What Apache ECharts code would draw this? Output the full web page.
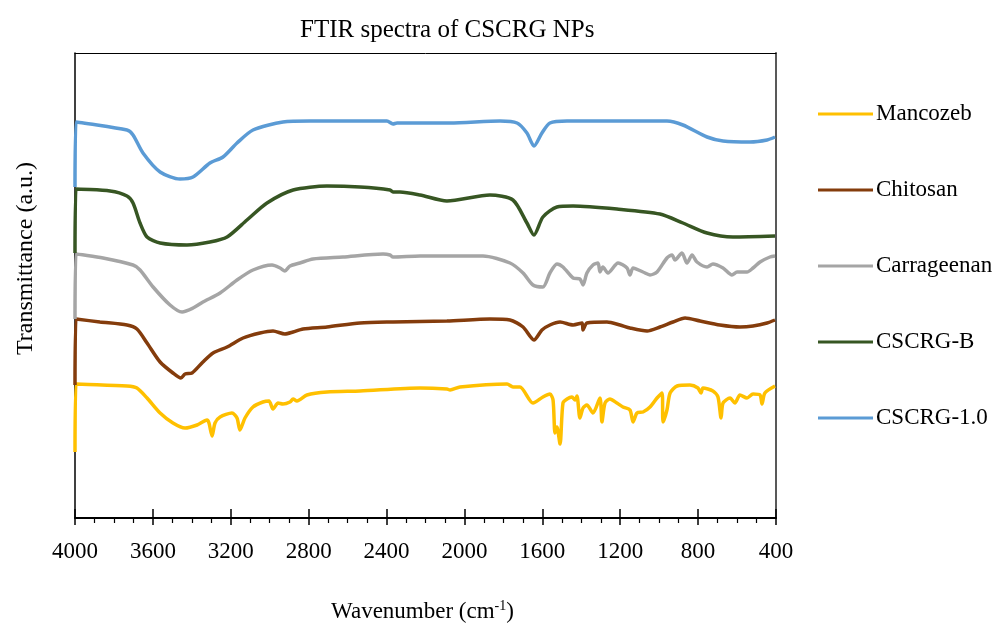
<!DOCTYPE html>
<html>
<head>
<meta charset="utf-8">
<script src="https://cdn.jsdelivr.net/npm/echarts@6/dist/echarts.min.js"></script>
<style>html,body{margin:0;padding:0;background:#fff}#c{width:998px;height:623px}</style>
</head>
<body>
<div id="c"></div>
<script>
// Tick labels
var xTicks = [4000, 3600, 3200, 2800, 2400, 2000, 1600, 1200, 800, 400];
var seriesNames = ['Mancozeb', 'Chitosan', 'Carrageenan', 'CSCRG-B', 'CSCRG-1.0'];

// CSCRG-1.0 (wavenumber, transmittance a.u.)
var cscrg10Wn = [4000,3995,3733,3702,3651,3563,3461,3394,3307,3240,3168,3086,2932,2793,2398,2367,2346,2228,2074,1817,1730,1679,1643,1602,1561,1473,960,878,754,672,534,446,405];
var cscrg10T  = [33.1,39.6,38.8,38.3,36.5,34.6,33.9,34.1,35.5,36.1,37.5,38.8,39.6,39.7,39.7,39.4,39.5,39.5,39.5,39.7,39.5,38.5,37.2,38.5,39.5,39.7,39.7,39.3,38.1,37.7,37.6,37.8,38.1];

// CSCRG-B
var cscrgBWn = [4000,3995,3820,3733,3702,3666,3630,3563,3425,3307,3219,3117,3014,2880,2706,2536,2382,2367,2331,2228,2090,1869,1751,1679,1643,1597,1525,1442,1217,996,878,754,621,405];
var cscrgBT  = [26.5,32.9,32.7,32.2,31.5,29.5,28.1,27.5,27.3,27.6,28.1,29.8,31.5,32.8,33.2,33.1,32.8,32.6,32.6,32.3,31.7,32.3,31.8,29.5,28.3,30.1,31.1,31.2,30.9,30.4,29.5,28.5,28.1,28.2];

// Carrageenan
var carrWn = [4000,3995,3856,3702,3666,3599,3512,3450,3394,3343,3255,3168,3086,2988,2947,2922,2896,2845,2778,2624,2418,2382,2367,2228,1905,1766,1699,1648,1597,1561,1525,1494,1442,1407,1391,1371,1340,1314,1304,1289,1263,1211,1165,1150,1134,1083,1047,1011,960,934,919,883,857,831,806,754,724,672,626,600,549,518,482,431,405];
var carrT  = [19.9,26.4,26.0,25.3,24.8,23.1,21.3,20.6,21.0,21.6,22.5,23.8,24.8,25.3,25.0,24.7,25.2,25.5,25.9,26.1,26.4,26.3,26.1,26.2,26.2,25.5,24.5,23.3,23.1,24.5,25.4,25.1,24.0,23.9,23.3,24.5,25.3,25.5,24.6,25.1,24.5,25.5,25.0,24.3,25.0,24.6,24.3,24.6,26.0,26.3,25.8,26.5,25.5,26.3,25.6,25.1,25.4,25.0,24.3,24.6,24.6,25.0,25.6,26.1,26.2];

// Chitosan
var chitWn = [4000,3995,3872,3733,3682,3630,3563,3497,3456,3435,3399,3343,3291,3219,3137,3050,2983,2922,2880,2829,2706,2536,2367,2090,1869,1766,1699,1643,1602,1561,1509,1442,1396,1391,1371,1268,1201,1150,1062,996,929,867,790,688,585,518,446,405];
var chitT  = [13.3,19.9,19.6,19.3,18.9,17.5,15.6,14.5,14.0,14.4,14.5,15.6,16.5,17.1,18.0,18.5,18.7,18.4,18.6,18.9,19.1,19.5,19.6,19.7,19.9,19.8,19.1,17.8,18.8,19.3,19.6,19.3,19.5,18.8,19.5,19.6,19.3,19.0,18.7,19.1,19.6,20.0,19.7,19.3,19.1,19.2,19.5,19.8];

// Mancozeb
var mancWn = [4000,3995,3733,3682,3630,3563,3497,3435,3373,3322,3312,3296,3281,3255,3194,3168,3153,3127,3086,3035,3004,2983,2957,2932,2896,2880,2860,2809,2706,2536,2228,2090,2074,2023,1781,1751,1715,1648,1597,1561,1545,1535,1525,1509,1494,1473,1448,1432,1422,1407,1391,1371,1340,1304,1294,1278,1253,1217,1186,1150,1134,1114,1083,1047,1011,985,980,960,944,908,842,801,785,775,724,698,682,672,636,611,585,549,518,482,472,457,405];
var mancT  = [6.6,13.4,13.2,13.0,12.0,10.5,9.5,9.0,9.3,9.8,9.5,8.2,9.5,10.1,10.5,10.0,8.8,10.0,11.1,11.6,11.7,10.9,11.5,11.4,11.6,11.9,11.7,12.3,12.6,12.7,13.0,12.9,12.8,13.1,13.4,13.1,13.1,11.5,12.1,12.4,11.8,8.5,9.1,7.4,11.5,11.9,12.1,11.8,12.2,10.0,11.0,11.3,10.5,12.0,9.6,11.5,11.9,11.5,11.1,10.8,9.6,10.5,10.6,11.1,12.0,12.5,9.6,10.8,12.5,13.2,13.3,13.0,12.5,13.0,12.7,12.1,10.0,11.5,12.0,11.5,12.3,12.0,12.4,12.3,11.4,12.5,13.2];

var colors = ['#FFC000', '#843C0C', '#A5A5A5', '#375623', '#5B9BD5'];
var FONT = 'Liberation Serif';

function zip(a, b) { return a.map(function (v, i) { return [v, b[i]]; }); }
var datasets = [zip(mancWn, mancT), zip(chitWn, chitT), zip(carrWn, carrT), zip(cscrgBWn, cscrgBT), zip(cscrg10Wn, cscrg10T)];

var chart = echarts.init(document.getElementById('c'), null, { renderer: 'canvas' });
var axisCommon = { type: 'value', inverse: true, min: 400, max: 4000, interval: 400, gridIndex: 0 };
chart.setOption({
  animation: false,
  backgroundColor: '#ffffff',
  title: {
    text: 'FTIR spectra of CSCRG NPs',
    left: 295, top: 13,
    textStyle: { fontFamily: FONT, fontSize: 25, fontWeight: 'normal', color: '#000' }
  },
  legend: {
    orient: 'vertical',
    left: 813, top: 97,
    itemWidth: 55, itemHeight: 3,
    itemGap: 52,
    icon: 'rect',
    textStyle: { fontFamily: FONT, fontSize: 23, color: '#000', lineHeight: 24, padding: [0, 0, 0, -2] },
    data: seriesNames
  },
  grid: { left: 75, right: 222, top: 53, bottom: 105, containLabel: false, outerBoundsMode: 'none' },
  xAxis: [
    Object.assign({}, axisCommon, {
      position: 'bottom',
      name: '{a|Wavenumber (cm}{s|-1}{a|)}',
      nameLocation: 'middle', nameGap: 81,
      nameTextStyle: {
        padding: [0, 6, 0, 0],
        rich: {
          a: { fontFamily: FONT, fontSize: 23, color: '#000', lineHeight: 26 },
          s: { fontFamily: FONT, fontSize: 14, color: '#000', verticalAlign: 'top', lineHeight: 26, padding: [0, 0, 10, 0] }
        }
      },
      axisLine: { show: true, onZero: false, lineStyle: { color: '#000', width: 2 } },
      axisTick: { show: true, inside: false, length: 7, lineStyle: { color: '#000', width: 1.5 } },
      minorTick: { show: true, splitNumber: 4, length: 5, lineStyle: { color: '#000', width: 1.2 } },
      splitLine: { show: false },
      minorSplitLine: { show: false },
      axisLabel: { margin: 22, fontFamily: FONT, fontSize: 23, color: '#000',
        formatter: function (v) { return xTicks.indexOf(v) >= 0 ? String(v) : ''; } }
    }),
    Object.assign({}, axisCommon, {
      position: 'bottom',
      axisLine: { show: false, onZero: false },
      axisTick: { show: true, inside: true, length: 9, lineStyle: { color: '#000', width: 1.5 } },
      axisLabel: { show: false },
      splitLine: { show: false }
    }),
    Object.assign({}, axisCommon, {
      position: 'top',
      axisLine: { show: true, onZero: false, lineStyle: { color: '#000', width: 1 } },
      axisTick: { show: false },
      axisLabel: { show: false },
      splitLine: { show: false }
    })
  ],
  yAxis: [
    { type: 'value', min: 0, max: 46.5, position: 'left',
      name: 'Transmittance (a.u.)', nameLocation: 'middle', nameRotate: 90, nameGap: 37,
      nameTextStyle: { fontFamily: FONT, fontSize: 24, color: '#000', padding: [0, 0, 0, 54] },
      axisLine: { show: true, onZero: false, lineStyle: { color: '#000', width: 1.5 } },
      axisTick: { show: false }, axisLabel: { show: false }, splitLine: { show: false } },
    { type: 'value', min: 0, max: 46.5, position: 'right',
      axisLine: { show: true, onZero: false, lineStyle: { color: '#595959', width: 2 } },
      axisTick: { show: false }, axisLabel: { show: false }, splitLine: { show: false } }
  ],
  series: seriesNames.map(function (n, i) {
    return {
      name: n, type: 'line', xAxisIndex: 0, yAxisIndex: 0,
      data: datasets[i], showSymbol: false, symbol: 'none',
      smooth: 0.25,
      color: colors[i],
      lineStyle: { color: colors[i], width: 3.5 },
      z: 2 + i
    };
  })
});
</script>
</body>
</html>
